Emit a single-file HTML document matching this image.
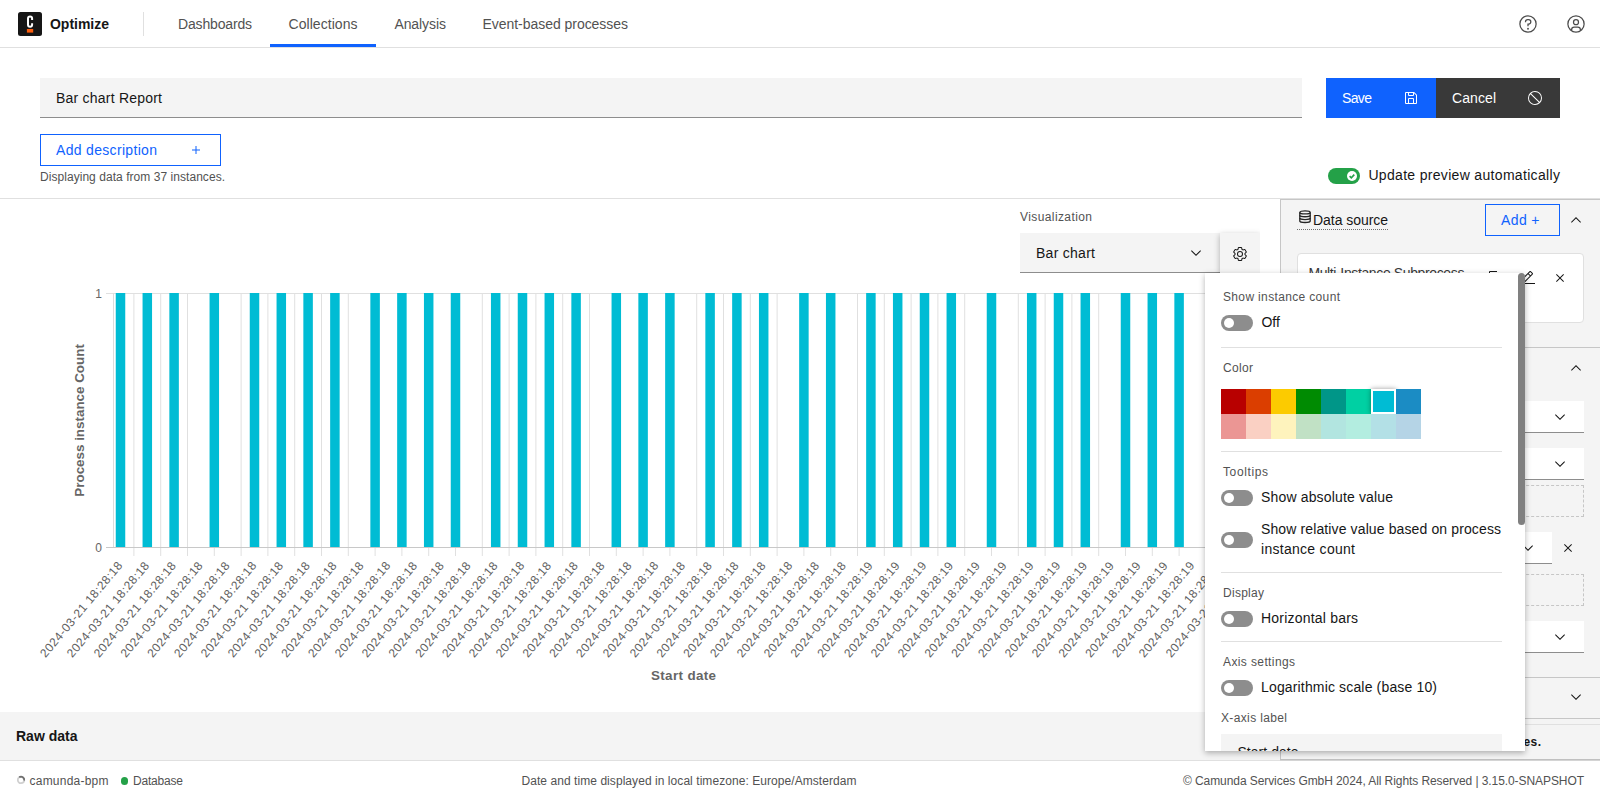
<!DOCTYPE html>
<html lang="en"><head><meta charset="utf-8"><title>Optimize</title><style>
*{box-sizing:border-box;margin:0;padding:0}
html,body{width:1600px;height:800px;overflow:hidden;background:#fff}
body{font-family:"Liberation Sans",sans-serif;font-size:14px;color:#161616;position:relative}
.abs{position:absolute}
.t{position:absolute;white-space:nowrap;line-height:1}
.t14{font-size:14px}
.t12{font-size:12px}
.gray{color:#525252}
svg{position:absolute;overflow:visible}
</style></head><body>
<div class="abs" style="left:0;top:0;width:1600px;height:48px;background:#fff;border-bottom:1px solid #e0e0e0"></div>
<svg style="left:18px;top:12px" width="24" height="24" viewBox="0 0 24 24"><rect width="24" height="24" rx="2.500" fill="#161616"/><path d="M14.100 8.100V6.450a2.050 2.050 0 0 0-4.100 0v6.200a2.050 2.050 0 0 0 4.100 0v-1.300" fill="none" stroke="#fff" stroke-width="2"/><rect x="8.900" y="17" width="6.300" height="3.600" fill="#fc5d0d"/></svg>
<div class="t" style="left:50px;top:15.0px;font-size:14px;line-height:18px;color:#161616;font-weight:bold;letter-spacing:-0.017px;">Optimize</div>
<div class="abs" style="left:143px;top:12px;width:1px;height:24px;background:#e0e0e0"></div>
<div class="t" style="left:178px;top:15.0px;font-size:14px;line-height:18px;color:#525252;font-weight:normal;letter-spacing:-0.165px;">Dashboards</div>
<div class="t" style="left:288.5px;top:15.0px;font-size:14px;line-height:18px;color:#525252;font-weight:normal;letter-spacing:0.052px;">Collections</div>
<div class="t" style="left:394.4px;top:15.0px;font-size:14px;line-height:18px;color:#525252;font-weight:normal;letter-spacing:-0.076px;">Analysis</div>
<div class="t" style="left:482.5px;top:15.0px;font-size:14px;line-height:18px;color:#525252;font-weight:normal;letter-spacing:-0.040px;">Event-based processes</div>
<div class="abs" style="left:270px;top:44px;width:106px;height:3px;background:#0f62fe"></div>
<svg style="left:1518px;top:14px" width="20" height="20" viewBox="0 0 32 32" fill="#4c4c4c"><path d="M16 2a14 14 0 1 0 14 14A14 14 0 0 0 16 2zm0 26a12 12 0 1 1 12-12 12 12 0 0 1-12 12z"/><circle cx="16" cy="23.5" r="1.5"/><path d="M17 8h-1.500a4.490 4.490 0 0 0-4.500 4.500V13h2v-.5a2.500 2.500 0 0 1 2.500-2.500H17a2.500 2.500 0 0 1 0 5h-2v4.500h2V17a4.500 4.500 0 0 0 0-9z"/></svg>
<svg style="left:1566px;top:14px" width="20" height="20" viewBox="0 0 32 32" fill="#4c4c4c"><path d="M16 8a5 5 0 1 0 5 5 5 5 0 0 0-5-5zm0 8a3 3 0 1 1 3-3 3 3 0 0 1-3 3z"/><path d="M16 2a14 14 0 1 0 14 14A14.016 14.016 0 0 0 16 2zm-6 24.377V25a3.003 3.003 0 0 1 3-3h6a3.003 3.003 0 0 1 3 3v1.377a11.899 11.899 0 0 1-12 0zm13.993-1.451A5.002 5.002 0 0 0 19 20h-6a5.002 5.002 0 0 0-4.992 4.926 12 12 0 1 1 15.985 0z"/></svg>
<div class="abs" style="left:40px;top:78px;width:1262px;height:40px;background:#f4f4f4;border-bottom:1px solid #8d8d8d"></div>
<div class="t" style="left:56px;top:89.0px;font-size:14px;line-height:18px;color:#161616;font-weight:normal;letter-spacing:0.219px;">Bar chart Report</div>
<div class="abs" style="left:1326px;top:78px;width:110px;height:40px;background:#0f62fe"></div>
<div class="t" style="left:1342px;top:89.0px;font-size:14px;line-height:18px;color:#fff;font-weight:normal;letter-spacing:-0.637px;">Save</div>
<svg style="left:1403px;top:90px" width="16" height="16" viewBox="0 0 32 32" fill="#fff"><path d="M27.710 9.290l-5-5A1 1 0 0 0 22 4H6a2 2 0 0 0-2 2v20a2 2 0 0 0 2 2h20a2 2 0 0 0 2-2V10a1 1 0 0 0-.290-.710zM12 6h8v4h-8zm8 20h-8v-8h8zm2 0v-8a2 2 0 0 0-2-2h-8a2 2 0 0 0-2 2v8H6V6h4v4a2 2 0 0 0 2 2h8a2 2 0 0 0 2-2V6.410l4 4V26z"/></svg>
<div class="abs" style="left:1436px;top:78px;width:124px;height:40px;background:#393939"></div>
<div class="t" style="left:1452px;top:89.0px;font-size:14px;line-height:18px;color:#fff;font-weight:normal;letter-spacing:0.084px;">Cancel</div>
<svg style="left:1527px;top:90px" width="16" height="16" viewBox="0 0 32 32" fill="#fff"><path d="M16 2a14 14 0 1 0 14 14A14 14 0 0 0 16 2zm12 14a11.940 11.940 0 0 1-2.850 7.740L8.260 6.850A12 12 0 0 1 28 16zM4 16a11.940 11.940 0 0 1 2.850-7.740l16.890 16.890A12 12 0 0 1 4 16z"/></svg>
<div class="abs" style="left:40px;top:134px;width:181px;height:32px;border:1px solid #0f62fe"></div>
<div class="t" style="left:56px;top:141.0px;font-size:14px;line-height:18px;color:#0f62fe;font-weight:normal;letter-spacing:0.321px;">Add description</div>
<svg style="left:188px;top:142px" width="16" height="16" viewBox="0 0 32 32" fill="#0f62fe"><path d="M17 15V8h-2v7H8v2h7v7h2v-7h7v-2z"/></svg>
<div class="t" style="left:40px;top:169.0px;font-size:12px;line-height:16px;color:#525252;font-weight:normal;letter-spacing:0.048px;">Displaying data from 37 instances.</div>
<div class="abs" style="left:1328px;top:168px;width:32px;height:16px;border-radius:8px;background:#24a148"></div>
<svg style="left:1347px;top:171px" width="10" height="10" viewBox="0 0 10 10"><circle cx="5" cy="5" r="5" fill="#fff"/><path d="M2.600 5.200 L4.300 6.800 L7.300 3.600" fill="none" stroke="#24a148" stroke-width="1.600"/></svg>
<div class="t" style="left:1368.4px;top:166.0px;font-size:14px;line-height:18px;color:#161616;font-weight:normal;letter-spacing:0.320px;">Update preview automatically</div>
<div class="abs" style="left:0;top:198px;width:1600px;height:1px;background:#e0e0e0"></div>
<svg style="left:0;top:199px" width="1280" height="513" viewBox="0 199 1280 513" font-family='"Liberation Sans", sans-serif'>
<rect x="106" y="293" width="1146" height="1" fill="#e0e0e0"/>
<rect x="113" y="293" width="1" height="254" fill="#dcdcdc"/>
<rect x="133.40" y="293" width="1" height="263" fill="#e0e0e0"/>
<rect x="160.20" y="293" width="1" height="263" fill="#e0e0e0"/>
<rect x="187.00" y="293" width="1" height="263" fill="#e0e0e0"/>
<rect x="213.80" y="293" width="1" height="263" fill="#e0e0e0"/>
<rect x="240.60" y="293" width="1" height="263" fill="#e0e0e0"/>
<rect x="267.40" y="293" width="1" height="263" fill="#e0e0e0"/>
<rect x="294.20" y="293" width="1" height="263" fill="#e0e0e0"/>
<rect x="321.00" y="293" width="1" height="263" fill="#e0e0e0"/>
<rect x="347.80" y="293" width="1" height="263" fill="#e0e0e0"/>
<rect x="374.60" y="293" width="1" height="263" fill="#e0e0e0"/>
<rect x="401.40" y="293" width="1" height="263" fill="#e0e0e0"/>
<rect x="428.20" y="293" width="1" height="263" fill="#e0e0e0"/>
<rect x="455.00" y="293" width="1" height="263" fill="#e0e0e0"/>
<rect x="481.80" y="293" width="1" height="263" fill="#e0e0e0"/>
<rect x="508.60" y="293" width="1" height="263" fill="#e0e0e0"/>
<rect x="535.40" y="293" width="1" height="263" fill="#e0e0e0"/>
<rect x="562.20" y="293" width="1" height="263" fill="#e0e0e0"/>
<rect x="589.00" y="293" width="1" height="263" fill="#e0e0e0"/>
<rect x="615.80" y="293" width="1" height="263" fill="#e0e0e0"/>
<rect x="642.60" y="293" width="1" height="263" fill="#e0e0e0"/>
<rect x="669.40" y="293" width="1" height="263" fill="#e0e0e0"/>
<rect x="696.20" y="293" width="1" height="263" fill="#e0e0e0"/>
<rect x="723.00" y="293" width="1" height="263" fill="#e0e0e0"/>
<rect x="749.80" y="293" width="1" height="263" fill="#e0e0e0"/>
<rect x="776.60" y="293" width="1" height="263" fill="#e0e0e0"/>
<rect x="803.40" y="293" width="1" height="263" fill="#e0e0e0"/>
<rect x="830.20" y="293" width="1" height="263" fill="#e0e0e0"/>
<rect x="857.00" y="293" width="1" height="263" fill="#e0e0e0"/>
<rect x="883.80" y="293" width="1" height="263" fill="#e0e0e0"/>
<rect x="910.60" y="293" width="1" height="263" fill="#e0e0e0"/>
<rect x="937.40" y="293" width="1" height="263" fill="#e0e0e0"/>
<rect x="964.20" y="293" width="1" height="263" fill="#e0e0e0"/>
<rect x="991.00" y="293" width="1" height="263" fill="#e0e0e0"/>
<rect x="1017.80" y="293" width="1" height="263" fill="#e0e0e0"/>
<rect x="1044.60" y="293" width="1" height="263" fill="#e0e0e0"/>
<rect x="1071.40" y="293" width="1" height="263" fill="#e0e0e0"/>
<rect x="1098.20" y="293" width="1" height="263" fill="#e0e0e0"/>
<rect x="1125.00" y="293" width="1" height="263" fill="#e0e0e0"/>
<rect x="1151.80" y="293" width="1" height="263" fill="#e0e0e0"/>
<rect x="1178.60" y="293" width="1" height="263" fill="#e0e0e0"/>
<rect x="1205.40" y="293" width="1" height="263" fill="#e0e0e0"/>
<rect x="1232.20" y="293" width="1" height="263" fill="#e0e0e0"/>
<rect x="106" y="547" width="1146" height="1" fill="#c8c8c8"/>
<rect x="115.75" y="293" width="9.5" height="254" fill="#00bcd4"/>
<rect x="142.55" y="293" width="9.5" height="254" fill="#00bcd4"/>
<rect x="169.35" y="293" width="9.5" height="254" fill="#00bcd4"/>
<rect x="209.55" y="293" width="9.5" height="254" fill="#00bcd4"/>
<rect x="249.75" y="293" width="9.5" height="254" fill="#00bcd4"/>
<rect x="276.55" y="293" width="9.5" height="254" fill="#00bcd4"/>
<rect x="303.35" y="293" width="9.5" height="254" fill="#00bcd4"/>
<rect x="330.15" y="293" width="9.5" height="254" fill="#00bcd4"/>
<rect x="370.35" y="293" width="9.5" height="254" fill="#00bcd4"/>
<rect x="397.15" y="293" width="9.5" height="254" fill="#00bcd4"/>
<rect x="423.95" y="293" width="9.5" height="254" fill="#00bcd4"/>
<rect x="450.75" y="293" width="9.5" height="254" fill="#00bcd4"/>
<rect x="490.95" y="293" width="9.5" height="254" fill="#00bcd4"/>
<rect x="517.75" y="293" width="9.5" height="254" fill="#00bcd4"/>
<rect x="544.55" y="293" width="9.5" height="254" fill="#00bcd4"/>
<rect x="571.35" y="293" width="9.5" height="254" fill="#00bcd4"/>
<rect x="611.55" y="293" width="9.5" height="254" fill="#00bcd4"/>
<rect x="638.35" y="293" width="9.5" height="254" fill="#00bcd4"/>
<rect x="665.15" y="293" width="9.5" height="254" fill="#00bcd4"/>
<rect x="705.35" y="293" width="9.5" height="254" fill="#00bcd4"/>
<rect x="732.15" y="293" width="9.5" height="254" fill="#00bcd4"/>
<rect x="758.95" y="293" width="9.5" height="254" fill="#00bcd4"/>
<rect x="799.15" y="293" width="9.5" height="254" fill="#00bcd4"/>
<rect x="825.95" y="293" width="9.5" height="254" fill="#00bcd4"/>
<rect x="866.15" y="293" width="9.5" height="254" fill="#00bcd4"/>
<rect x="892.95" y="293" width="9.5" height="254" fill="#00bcd4"/>
<rect x="919.75" y="293" width="9.5" height="254" fill="#00bcd4"/>
<rect x="946.55" y="293" width="9.5" height="254" fill="#00bcd4"/>
<rect x="986.75" y="293" width="9.5" height="254" fill="#00bcd4"/>
<rect x="1026.95" y="293" width="9.5" height="254" fill="#00bcd4"/>
<rect x="1053.75" y="293" width="9.5" height="254" fill="#00bcd4"/>
<rect x="1080.55" y="293" width="9.5" height="254" fill="#00bcd4"/>
<rect x="1120.75" y="293" width="9.5" height="254" fill="#00bcd4"/>
<rect x="1147.55" y="293" width="9.5" height="254" fill="#00bcd4"/>
<rect x="1174.35" y="293" width="9.5" height="254" fill="#00bcd4"/>
<rect x="1214.55" y="293" width="9.5" height="254" fill="#00bcd4"/>
<rect x="1241.35" y="293" width="9.5" height="254" fill="#00bcd4"/>
<text x="123.00" y="566" font-size="12" fill="#5e5e5e" text-anchor="end" transform="rotate(-50 123.00 566)" textLength="120.500" lengthAdjust="spacing">2024-03-21 18:28:18</text>
<text x="149.80" y="566" font-size="12" fill="#5e5e5e" text-anchor="end" transform="rotate(-50 149.80 566)" textLength="120.500" lengthAdjust="spacing">2024-03-21 18:28:18</text>
<text x="176.60" y="566" font-size="12" fill="#5e5e5e" text-anchor="end" transform="rotate(-50 176.60 566)" textLength="120.500" lengthAdjust="spacing">2024-03-21 18:28:18</text>
<text x="203.40" y="566" font-size="12" fill="#5e5e5e" text-anchor="end" transform="rotate(-50 203.40 566)" textLength="120.500" lengthAdjust="spacing">2024-03-21 18:28:18</text>
<text x="230.20" y="566" font-size="12" fill="#5e5e5e" text-anchor="end" transform="rotate(-50 230.20 566)" textLength="120.500" lengthAdjust="spacing">2024-03-21 18:28:18</text>
<text x="257.00" y="566" font-size="12" fill="#5e5e5e" text-anchor="end" transform="rotate(-50 257.00 566)" textLength="120.500" lengthAdjust="spacing">2024-03-21 18:28:18</text>
<text x="283.80" y="566" font-size="12" fill="#5e5e5e" text-anchor="end" transform="rotate(-50 283.80 566)" textLength="120.500" lengthAdjust="spacing">2024-03-21 18:28:18</text>
<text x="310.60" y="566" font-size="12" fill="#5e5e5e" text-anchor="end" transform="rotate(-50 310.60 566)" textLength="120.500" lengthAdjust="spacing">2024-03-21 18:28:18</text>
<text x="337.40" y="566" font-size="12" fill="#5e5e5e" text-anchor="end" transform="rotate(-50 337.40 566)" textLength="120.500" lengthAdjust="spacing">2024-03-21 18:28:18</text>
<text x="364.20" y="566" font-size="12" fill="#5e5e5e" text-anchor="end" transform="rotate(-50 364.20 566)" textLength="120.500" lengthAdjust="spacing">2024-03-21 18:28:18</text>
<text x="391.00" y="566" font-size="12" fill="#5e5e5e" text-anchor="end" transform="rotate(-50 391.00 566)" textLength="120.500" lengthAdjust="spacing">2024-03-21 18:28:18</text>
<text x="417.80" y="566" font-size="12" fill="#5e5e5e" text-anchor="end" transform="rotate(-50 417.80 566)" textLength="120.500" lengthAdjust="spacing">2024-03-21 18:28:18</text>
<text x="444.60" y="566" font-size="12" fill="#5e5e5e" text-anchor="end" transform="rotate(-50 444.60 566)" textLength="120.500" lengthAdjust="spacing">2024-03-21 18:28:18</text>
<text x="471.40" y="566" font-size="12" fill="#5e5e5e" text-anchor="end" transform="rotate(-50 471.40 566)" textLength="120.500" lengthAdjust="spacing">2024-03-21 18:28:18</text>
<text x="498.20" y="566" font-size="12" fill="#5e5e5e" text-anchor="end" transform="rotate(-50 498.20 566)" textLength="120.500" lengthAdjust="spacing">2024-03-21 18:28:18</text>
<text x="525.00" y="566" font-size="12" fill="#5e5e5e" text-anchor="end" transform="rotate(-50 525.00 566)" textLength="120.500" lengthAdjust="spacing">2024-03-21 18:28:18</text>
<text x="551.80" y="566" font-size="12" fill="#5e5e5e" text-anchor="end" transform="rotate(-50 551.80 566)" textLength="120.500" lengthAdjust="spacing">2024-03-21 18:28:18</text>
<text x="578.60" y="566" font-size="12" fill="#5e5e5e" text-anchor="end" transform="rotate(-50 578.60 566)" textLength="120.500" lengthAdjust="spacing">2024-03-21 18:28:18</text>
<text x="605.40" y="566" font-size="12" fill="#5e5e5e" text-anchor="end" transform="rotate(-50 605.40 566)" textLength="120.500" lengthAdjust="spacing">2024-03-21 18:28:18</text>
<text x="632.20" y="566" font-size="12" fill="#5e5e5e" text-anchor="end" transform="rotate(-50 632.20 566)" textLength="120.500" lengthAdjust="spacing">2024-03-21 18:28:18</text>
<text x="659.00" y="566" font-size="12" fill="#5e5e5e" text-anchor="end" transform="rotate(-50 659.00 566)" textLength="120.500" lengthAdjust="spacing">2024-03-21 18:28:18</text>
<text x="685.80" y="566" font-size="12" fill="#5e5e5e" text-anchor="end" transform="rotate(-50 685.80 566)" textLength="120.500" lengthAdjust="spacing">2024-03-21 18:28:18</text>
<text x="712.60" y="566" font-size="12" fill="#5e5e5e" text-anchor="end" transform="rotate(-50 712.60 566)" textLength="120.500" lengthAdjust="spacing">2024-03-21 18:28:18</text>
<text x="739.40" y="566" font-size="12" fill="#5e5e5e" text-anchor="end" transform="rotate(-50 739.40 566)" textLength="120.500" lengthAdjust="spacing">2024-03-21 18:28:18</text>
<text x="766.20" y="566" font-size="12" fill="#5e5e5e" text-anchor="end" transform="rotate(-50 766.20 566)" textLength="120.500" lengthAdjust="spacing">2024-03-21 18:28:18</text>
<text x="793.00" y="566" font-size="12" fill="#5e5e5e" text-anchor="end" transform="rotate(-50 793.00 566)" textLength="120.500" lengthAdjust="spacing">2024-03-21 18:28:18</text>
<text x="819.80" y="566" font-size="12" fill="#5e5e5e" text-anchor="end" transform="rotate(-50 819.80 566)" textLength="120.500" lengthAdjust="spacing">2024-03-21 18:28:18</text>
<text x="846.60" y="566" font-size="12" fill="#5e5e5e" text-anchor="end" transform="rotate(-50 846.60 566)" textLength="120.500" lengthAdjust="spacing">2024-03-21 18:28:18</text>
<text x="873.40" y="566" font-size="12" fill="#5e5e5e" text-anchor="end" transform="rotate(-50 873.40 566)" textLength="120.500" lengthAdjust="spacing">2024-03-21 18:28:19</text>
<text x="900.20" y="566" font-size="12" fill="#5e5e5e" text-anchor="end" transform="rotate(-50 900.20 566)" textLength="120.500" lengthAdjust="spacing">2024-03-21 18:28:19</text>
<text x="927.00" y="566" font-size="12" fill="#5e5e5e" text-anchor="end" transform="rotate(-50 927.00 566)" textLength="120.500" lengthAdjust="spacing">2024-03-21 18:28:19</text>
<text x="953.80" y="566" font-size="12" fill="#5e5e5e" text-anchor="end" transform="rotate(-50 953.80 566)" textLength="120.500" lengthAdjust="spacing">2024-03-21 18:28:19</text>
<text x="980.60" y="566" font-size="12" fill="#5e5e5e" text-anchor="end" transform="rotate(-50 980.60 566)" textLength="120.500" lengthAdjust="spacing">2024-03-21 18:28:19</text>
<text x="1007.40" y="566" font-size="12" fill="#5e5e5e" text-anchor="end" transform="rotate(-50 1007.40 566)" textLength="120.500" lengthAdjust="spacing">2024-03-21 18:28:19</text>
<text x="1034.20" y="566" font-size="12" fill="#5e5e5e" text-anchor="end" transform="rotate(-50 1034.20 566)" textLength="120.500" lengthAdjust="spacing">2024-03-21 18:28:19</text>
<text x="1061.00" y="566" font-size="12" fill="#5e5e5e" text-anchor="end" transform="rotate(-50 1061.00 566)" textLength="120.500" lengthAdjust="spacing">2024-03-21 18:28:19</text>
<text x="1087.80" y="566" font-size="12" fill="#5e5e5e" text-anchor="end" transform="rotate(-50 1087.80 566)" textLength="120.500" lengthAdjust="spacing">2024-03-21 18:28:19</text>
<text x="1114.60" y="566" font-size="12" fill="#5e5e5e" text-anchor="end" transform="rotate(-50 1114.60 566)" textLength="120.500" lengthAdjust="spacing">2024-03-21 18:28:19</text>
<text x="1141.40" y="566" font-size="12" fill="#5e5e5e" text-anchor="end" transform="rotate(-50 1141.40 566)" textLength="120.500" lengthAdjust="spacing">2024-03-21 18:28:19</text>
<text x="1168.20" y="566" font-size="12" fill="#5e5e5e" text-anchor="end" transform="rotate(-50 1168.20 566)" textLength="120.500" lengthAdjust="spacing">2024-03-21 18:28:19</text>
<text x="1195.00" y="566" font-size="12" fill="#5e5e5e" text-anchor="end" transform="rotate(-50 1195.00 566)" textLength="120.500" lengthAdjust="spacing">2024-03-21 18:28:19</text>
<text x="1221.80" y="566" font-size="12" fill="#5e5e5e" text-anchor="end" transform="rotate(-50 1221.80 566)" textLength="120.500" lengthAdjust="spacing">2024-03-21 18:28:19</text>
<text x="1248.60" y="566" font-size="12" fill="#5e5e5e" text-anchor="end" transform="rotate(-50 1248.60 566)" textLength="120.500" lengthAdjust="spacing">2024-03-21 18:28:19</text>
<text x="102" y="297.500" font-size="12" fill="#666" text-anchor="end">1</text>
<text x="102" y="551.500" font-size="12" fill="#666" text-anchor="end">0</text>
<text x="683.500" y="679.600" font-size="13.400" font-weight="bold" fill="#666" text-anchor="middle" textLength="65" lengthAdjust="spacing">Start date</text>
<text x="83.800" y="420.400" font-size="13.400" font-weight="bold" fill="#666" text-anchor="middle" transform="rotate(-90 83.800 420.400)">Process instance Count</text>
</svg>
<div class="t" style="left:1020px;top:209.0px;font-size:12px;line-height:16px;color:#525252;font-weight:normal;letter-spacing:0.404px;">Visualization</div>
<div class="abs" style="left:1020px;top:233px;width:200px;height:40px;background:#f4f4f4;border-bottom:1px solid #8d8d8d"></div>
<div class="t" style="left:1036px;top:244.0px;font-size:14px;line-height:18px;color:#161616;font-weight:normal;letter-spacing:0.275px;">Bar chart</div>
<svg style="left:1188px;top:245px" width="16" height="16" viewBox="0 0 16 16" fill="#161616"><path d="M8 11L3 6l.7-.7L8 9.600l4.300-4.300.7.700z"/></svg>
<div class="abs" style="left:1220px;top:233px;width:40px;height:40px;background:#f4f4f4;box-shadow:0 2px 6px rgba(0,0,0,.300);clip-path:inset(-8px 0 -8px -8px)"></div>
<svg style="left:1232px;top:246px" width="16" height="16" viewBox="0 0 32 32" fill="#161616"><path d="M27 16.760c0-.250 0-.500 0-.760s0-.510 0-.770l1.920-1.680A2 2 0 0 0 29.300 11l-2.360-4a2 2 0 0 0-1.730-1 2 2 0 0 0-.640.100l-2.430.820a11.350 11.350 0 0 0-1.310-.750l-.510-2.520a2 2 0 0 0-2-1.610h-4.680a2 2 0 0 0-2 1.610l-.510 2.520a11.480 11.480 0 0 0-1.320.750l-2.380-.860A2 2 0 0 0 6.790 6a2 2 0 0 0-1.730 1L2.700 11a2 2 0 0 0 .410 2.510L5 15.240c0 .250 0 .500 0 .760s0 .510 0 .770l-1.890 1.680A2 2 0 0 0 2.700 21l2.360 4a2 2 0 0 0 1.730 1 2 2 0 0 0 .640-.100l2.430-.820a11.350 11.350 0 0 0 1.310.750l.510 2.520a2 2 0 0 0 2 1.610h4.720a2 2 0 0 0 2-1.610l.510-2.520a11.480 11.480 0 0 0 1.320-.750l2.420.820a2 2 0 0 0 .640.100 2 2 0 0 0 1.730-1l2.280-4a2 2 0 0 0-.410-2.510zM25.210 24l-3.430-1.160a8.860 8.860 0 0 1-2.710 1.570L18.360 28h-4.720l-.710-3.550a9.360 9.360 0 0 1-2.700-1.570L6.790 24l-2.360-4 2.720-2.400a8.900 8.900 0 0 1 0-3.130L4.430 12l2.360-4 3.430 1.160a8.860 8.860 0 0 1 2.710-1.570L13.640 4h4.720l.710 3.550a9.360 9.360 0 0 1 2.700 1.570L25.210 8l2.360 4-2.720 2.400a8.900 8.900 0 0 1 0 3.130L27.570 20z"/><path d="M16 22a6 6 0 1 1 6-6 5.940 5.940 0 0 1-6 6zm0-10a3.910 3.910 0 0 0-4 4 3.910 3.910 0 0 0 4 4 3.910 3.910 0 0 0 4-4 3.910 3.910 0 0 0-4-4z"/></svg>
<div class="abs" style="left:0;top:712px;width:1600px;height:49px;background:#f4f4f4;border-bottom:1px solid #e0e0e0"></div>
<div class="t" style="left:16px;top:727.0px;font-size:14px;line-height:18px;color:#161616;font-weight:bold;letter-spacing:0.005px;">Raw data</div>
<svg style="left:16px;top:775px" width="10" height="10" viewBox="0 0 10 10"><circle cx="5" cy="5" r="3.200" fill="none" stroke="#d0d0d0" stroke-width="1.800"/><path d="M3.200 2.300 A3.200 3.200 0 0 1 8.200 5.500" fill="none" stroke="#6f6f6f" stroke-width="1.800"/></svg>
<div class="t" style="left:29.5px;top:773.0px;font-size:12px;line-height:16px;color:#525252;font-weight:normal;letter-spacing:0.229px;">camunda-bpm</div>
<div class="abs" style="left:121px;top:777.300px;width:7.400px;height:7.400px;border-radius:4px;background:#24a148"></div>
<div class="t" style="left:133px;top:773.0px;font-size:12px;line-height:16px;color:#525252;font-weight:normal;letter-spacing:-0.196px;">Database</div>
<div class="t" style="left:521.5px;top:773.0px;font-size:12px;line-height:16px;color:#525252;font-weight:normal;letter-spacing:0.060px;">Date and time displayed in local timezone: Europe/Amsterdam</div>
<div class="t" style="left:1183px;top:773.0px;font-size:12px;line-height:16px;color:#525252;font-weight:normal;letter-spacing:-0.078px;">© Camunda Services GmbH 2024, All Rights Reserved | 3.15.0-SNAPSHOT</div>
<div class="abs" style="left:1280px;top:199px;width:320px;height:562px;background:#f4f4f4;border-left:1px solid #c6c6c6;border-top:1px solid #c6c6c6"></div>
<div class="abs" style="left:1280px;top:759px;width:320px;height:1px;background:#c0c0c0"></div>
<div class="abs" style="left:1280px;top:760px;width:320px;height:1px;background:#d4d4d4"></div>
<svg style="left:1299px;top:210px" width="12" height="14" viewBox="0 0 12 14" fill="none" stroke="#262626" stroke-width="1.400"><ellipse cx="6" cy="2.400" rx="5.200" ry="1.500"/><path d="M.8 2.400v8.600M11.200 2.400v8.600" stroke-width="1.300"/><path d="M.8 5.250a5.200 1.500 0 0 0 10.400 0M.8 8.100a5.200 1.500 0 0 0 10.400 0M.8 11a5.200 1.500 0 0 0 10.400 0"/></svg>
<div class="t" style="left:1313px;top:211.0px;font-size:14px;line-height:18px;color:#161616;font-weight:normal;letter-spacing:-0.048px;">Data source</div>
<div class="abs" style="left:1297px;top:229px;width:91px;height:0;border-bottom:1px dotted #6f6f6f"></div>
<div class="abs" style="left:1485px;top:204px;width:75px;height:32px;border:1px solid #0f62fe"></div>
<div class="t" style="left:1501px;top:211.0px;font-size:14px;line-height:18px;color:#0f62fe;font-weight:normal;letter-spacing:0.381px;">Add +</div>
<svg style="left:1568px;top:212px" width="16" height="16" viewBox="0 0 16 16" fill="#161616"><path d="M8 5l5 5-.7.7L8 6.400 3.700 10.700 3 10z"/></svg>
<div class="abs" style="left:1297px;top:253px;width:287px;height:70px;background:#fff;border:1px solid #e0e0e0;border-radius:4px"></div>
<div class="t" style="left:1308.4px;top:263.6px;font-size:14px;line-height:18px;color:#393939;font-weight:normal;letter-spacing:-0.374px;">Multi-Instance Subprocess</div>
<svg style="left:1488px;top:270px" width="16" height="16" viewBox="0 0 32 32" fill="#161616"><path d="M28 10v18H10V10h18m0-2H10a2 2 0 0 0-2 2v18a2 2 0 0 0 2 2h18a2 2 0 0 0 2-2V10a2 2 0 0 0-2-2z"/><path d="M4 18H2V4a2 2 0 0 1 2-2h14v2H4z"/></svg>
<svg style="left:1520px;top:270px" width="16" height="16" viewBox="0 0 32 32" fill="#161616"><path d="M2 26h28v2H2zM25.400 9c.8-.8.8-2 0-2.800l-3.600-3.600c-.8-.8-2-.8-2.800 0l-15 15V24h6.400l15-15zm-5-5L24 7.600l-3 3L17.400 7l3-3zM6 22v-3.600l10-10 3.600 3.600-10 10H6z"/></svg>
<svg style="left:1552px;top:270px" width="16" height="16" viewBox="0 0 16 16" fill="#161616"><path d="M12 4.700L11.300 4 8 7.300 4.700 4 4 4.700 7.300 8 4 11.300 4.700 12 8 8.700 11.300 12 12 11.300 8.700 8z"/></svg>
<div class="abs" style="left:1281px;top:347px;width:319px;height:1px;background:#c6c6c6"></div>
<svg style="left:1568px;top:360px" width="16" height="16" viewBox="0 0 16 16" fill="#161616"><path d="M8 5l5 5-.7.7L8 6.400 3.700 10.700 3 10z"/></svg>
<div class="abs" style="left:1297px;top:401px;width:287px;height:32px;background:#fff;border-bottom:1px solid #8d8d8d"></div>
<svg style="left:1551.5px;top:409px" width="16" height="16" viewBox="0 0 16 16" fill="#161616"><path d="M8 11L3 6l.7-.7L8 9.600l4.300-4.300.7.700z"/></svg>
<div class="abs" style="left:1297px;top:448px;width:287px;height:32px;background:#fff;border-bottom:1px solid #8d8d8d"></div>
<svg style="left:1551.5px;top:456px" width="16" height="16" viewBox="0 0 16 16" fill="#161616"><path d="M8 11L3 6l.7-.7L8 9.600l4.300-4.300.7.700z"/></svg>
<div class="t" style="left:1313px;top:408.0px;font-size:14px;line-height:18px;color:#161616;font-weight:normal;">Process instance: Count</div>
<div class="t" style="left:1313px;top:455.0px;font-size:14px;line-height:18px;color:#161616;font-weight:normal;">Start date: Automatic</div>
<div class="t" style="left:1313px;top:539.0px;font-size:14px;line-height:18px;color:#161616;font-weight:normal;">None</div>
<div class="t" style="left:1313px;top:628.0px;font-size:14px;line-height:18px;color:#161616;font-weight:normal;">None</div>
<div class="t" style="left:1297px;top:359.0px;font-size:14px;line-height:18px;color:#161616;font-weight:normal;">Setup</div>
<div class="t" style="left:1297px;top:688.0px;font-size:14px;line-height:18px;color:#161616;font-weight:normal;">Filters</div>
<div class="abs" style="left:1297px;top:485px;width:287px;height:32px;border:1px dashed #c6c6c6"></div>
<div class="abs" style="left:1297px;top:532px;width:255px;height:32px;background:#fff;border-bottom:1px solid #8d8d8d"></div>
<svg style="left:1519.5px;top:540px" width="16" height="16" viewBox="0 0 16 16" fill="#161616"><path d="M8 11L3 6l.7-.7L8 9.600l4.300-4.300.7.700z"/></svg>
<svg style="left:1560px;top:540px" width="16" height="16" viewBox="0 0 16 16" fill="#161616"><path d="M12 4.700L11.300 4 8 7.300 4.700 4 4 4.700 7.300 8 4 11.300 4.700 12 8 8.700 11.300 12 12 11.300 8.700 8z"/></svg>
<div class="abs" style="left:1297px;top:574px;width:287px;height:32px;border:1px dashed #c6c6c6"></div>
<div class="abs" style="left:1297px;top:621px;width:287px;height:32px;background:#fff;border-bottom:1px solid #8d8d8d"></div>
<svg style="left:1551.5px;top:629px" width="16" height="16" viewBox="0 0 16 16" fill="#161616"><path d="M8 11L3 6l.7-.7L8 9.600l4.300-4.300.7.700z"/></svg>
<div class="abs" style="left:1281px;top:677px;width:319px;height:1px;background:#c6c6c6"></div>
<svg style="left:1568px;top:689px" width="16" height="16" viewBox="0 0 16 16" fill="#161616"><path d="M8 11L3 6l.7-.7L8 9.600l4.300-4.300.7.700z"/></svg>
<div class="abs" style="left:1281px;top:718px;width:319px;height:1px;background:#c6c6c6"></div>
<div class="abs" style="left:1281px;top:724px;width:319px;height:1px;background:#e0e0e0"></div>
<div class="t" style="left:1341px;top:734.0px;font-size:12px;line-height:16px;color:#161616;font-weight:bold;width:240px;text-align:right;letter-spacing:.45px;margin-left:-39.55px;">Displaying data from 37 instances.</div>
<div class="abs" style="left:1205px;top:273px;width:320px;height:478px;background:#fff;box-shadow:0 2px 6px rgba(0,0,0,.300);overflow:hidden" id="popup">
<div class="t" style="left:18px;top:16.0px;font-size:12px;line-height:16px;color:#525252;font-weight:normal;letter-spacing:0.348px;">Show instance count</div>
<div class="abs" style="left:16px;top:42px;width:32px;height:16px;border-radius:8px;background:#8d8d8d"></div>
<div class="abs" style="left:19px;top:45px;width:10px;height:10px;border-radius:5px;background:#fff"></div>
<div class="t" style="left:56.40000000000009px;top:40.0px;font-size:14px;line-height:18px;color:#161616;font-weight:normal;letter-spacing:0.092px;">Off</div>
<div class="abs" style="left:16px;top:74px;width:281px;height:1px;background:#e0e0e0"></div>
<div class="t" style="left:18px;top:87.0px;font-size:12px;line-height:16px;color:#525252;font-weight:normal;letter-spacing:0.331px;">Color</div>
<div class="abs" style="left:16px;top:116px;width:25px;height:25px;background:#b80000"></div>
<div class="abs" style="left:41px;top:116px;width:25px;height:25px;background:#db3e00"></div>
<div class="abs" style="left:66px;top:116px;width:25px;height:25px;background:#fccb00"></div>
<div class="abs" style="left:91px;top:116px;width:25px;height:25px;background:#008b02"></div>
<div class="abs" style="left:116px;top:116px;width:25px;height:25px;background:#009688"></div>
<div class="abs" style="left:141px;top:116px;width:25px;height:25px;background:#00d0a3"></div>
<div class="abs" style="left:166px;top:116px;width:25px;height:25px;background:#00bcd4;border:2px solid #fff;box-shadow:0 0 5px rgba(0,0,0,.400)"></div>
<div class="abs" style="left:191px;top:116px;width:25px;height:25px;background:#1b8cc4"></div>
<div class="abs" style="left:16px;top:141px;width:25px;height:25px;background:#eb9694"></div>
<div class="abs" style="left:41px;top:141px;width:25px;height:25px;background:#fad0c3"></div>
<div class="abs" style="left:66px;top:141px;width:25px;height:25px;background:#fef3bd"></div>
<div class="abs" style="left:91px;top:141px;width:25px;height:25px;background:#c1e1c5"></div>
<div class="abs" style="left:116px;top:141px;width:25px;height:25px;background:#b2e5e0"></div>
<div class="abs" style="left:141px;top:141px;width:25px;height:25px;background:#b3ede0"></div>
<div class="abs" style="left:166px;top:141px;width:25px;height:25px;background:#b3e0e6"></div>
<div class="abs" style="left:191px;top:141px;width:25px;height:25px;background:#b5d4e6"></div>
<div class="abs" style="left:16px;top:178px;width:281px;height:1px;background:#e0e0e0"></div>
<div class="t" style="left:18px;top:191.0px;font-size:12px;line-height:16px;color:#525252;font-weight:normal;letter-spacing:0.616px;">Tooltips</div>
<div class="abs" style="left:16px;top:217px;width:32px;height:16px;border-radius:8px;background:#8d8d8d"></div>
<div class="abs" style="left:19px;top:220px;width:10px;height:10px;border-radius:5px;background:#fff"></div>
<div class="t" style="left:56px;top:215.0px;font-size:14px;line-height:18px;color:#161616;font-weight:normal;letter-spacing:0.156px;">Show absolute value</div>
<div class="abs" style="left:16px;top:259px;width:32px;height:16px;border-radius:8px;background:#8d8d8d"></div>
<div class="abs" style="left:19px;top:262px;width:10px;height:10px;border-radius:5px;background:#fff"></div>
<div class="t" style="left:56px;top:247.0px;font-size:14px;line-height:18px;color:#161616;font-weight:normal;letter-spacing:0.120px;">Show relative value based on process</div>
<div class="t" style="left:56px;top:267.0px;font-size:14px;line-height:18px;color:#161616;font-weight:normal;letter-spacing:0.286px;">instance count</div>
<div class="abs" style="left:16px;top:299px;width:281px;height:1px;background:#e0e0e0"></div>
<div class="t" style="left:18px;top:312.0px;font-size:12px;line-height:16px;color:#525252;font-weight:normal;letter-spacing:0.276px;">Display</div>
<div class="abs" style="left:16px;top:338px;width:32px;height:16px;border-radius:8px;background:#8d8d8d"></div>
<div class="abs" style="left:19px;top:341px;width:10px;height:10px;border-radius:5px;background:#fff"></div>
<div class="t" style="left:56px;top:336.0px;font-size:14px;line-height:18px;color:#161616;font-weight:normal;letter-spacing:0.203px;">Horizontal bars</div>
<div class="abs" style="left:16px;top:368px;width:281px;height:1px;background:#e0e0e0"></div>
<div class="t" style="left:18px;top:381.0px;font-size:12px;line-height:16px;color:#525252;font-weight:normal;letter-spacing:0.387px;">Axis settings</div>
<div class="abs" style="left:16px;top:407px;width:32px;height:16px;border-radius:8px;background:#8d8d8d"></div>
<div class="abs" style="left:19px;top:410px;width:10px;height:10px;border-radius:5px;background:#fff"></div>
<div class="t" style="left:56px;top:405.0px;font-size:14px;line-height:18px;color:#161616;font-weight:normal;letter-spacing:0.155px;">Logarithmic scale (base 10)</div>
<div class="t" style="left:16px;top:437.0px;font-size:12px;line-height:16px;color:#525252;font-weight:normal;letter-spacing:0.361px;">X-axis label</div>
<div class="abs" style="left:16px;top:461px;width:281px;height:40px;background:#f4f4f4;border-bottom:1px solid #8d8d8d"></div>
<div class="t" style="left:32.5px;top:470.20000000000005px;font-size:14px;line-height:18px;color:#161616;font-weight:normal;letter-spacing:0.033px;">Start date</div>
<div class="abs" style="left:313px;top:0;width:7px;height:252px;border-radius:4px;background:#808080"></div>
</div>
</body></html>
